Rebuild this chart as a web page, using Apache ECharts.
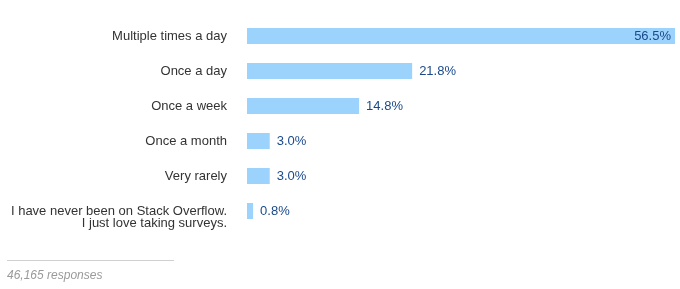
<!DOCTYPE html>
<html><head><meta charset="utf-8">
<script src="https://cdn.jsdelivr.net/npm/echarts@6/dist/echarts.min.js"></script>
<style>html,body{margin:0;padding:0;background:#fff}#c{width:680px;height:289px}</style>
</head><body><div id="c"></div>
<script>
const categories = ['Multiple times a day','Once a day','Once a week','Once a month','Very rarely','I have never been on Stack Overflow.\nI just love taking surveys.'];
const values = [56.5, 21.8, 14.8, 3.0, 3.0, 0.8];
const footnote = '46,165 responses';

const chart = echarts.init(document.getElementById('c'), null, {renderer:'canvas'});
const font = '"Liberation Sans", Arial, Helvetica, sans-serif';
chart.setOption({
  animation:false,
  grid:{left:247, right:5, top:18.5, height:210},
  xAxis:{type:'value', min:0, max:56.5, show:false},
  yAxis:{type:'category', inverse:true, data:categories,
    axisLine:{show:false}, axisTick:{show:false}, splitLine:{show:false},
    axisLabel:{margin:20, color:'#333', fontSize:13, fontFamily:font, lineHeight:12, align:'right',
      formatter:v => v.indexOf('\n')>=0 ? ' \n'+v : v}},
  series:[{type:'bar', data:values.map((v,i)=>({value:v, label: i===0 ? {position:'insideRight', distance:4} : {position:'right', distance:7}})),
    barWidth:16, itemStyle:{color:'#9cd3fc'},
    label:{show:true, formatter:p=>p.value.toFixed(1)+'%', color:'#1a4a8a', fontSize:13, fontFamily:font}}],
  graphic:[
    {type:'line', shape:{x1:7,y1:260.5,x2:174,y2:260.5}, style:{stroke:'#d0d0d0', lineWidth:1}},
    {type:'text', left:7, top:270, style:{text:footnote, fill:'#9a9a9a', font:'italic 12px '+font}}
  ]
});
</script></body></html>
